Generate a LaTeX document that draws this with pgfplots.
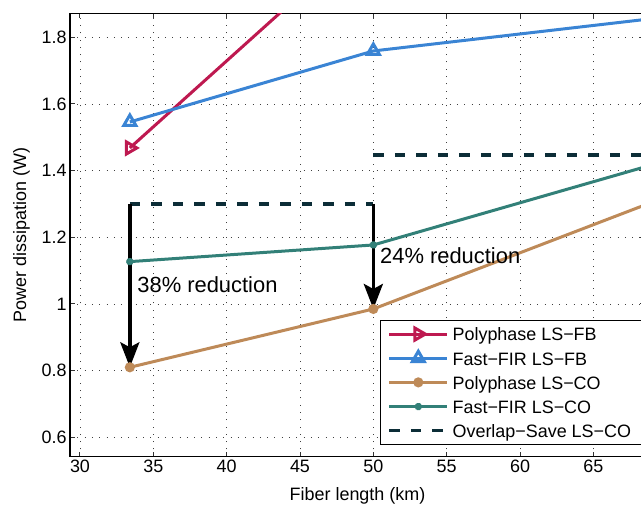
\documentclass[border=0pt]{standalone}
\usepackage{fontspec}
\setmainfont{Liberation Sans}
\usepackage{pgfplots}
\pgfplotsset{compat=1.18}
\usetikzlibrary{arrows.meta}

\definecolor{cPolyFB}{RGB}{190,25,80}
\definecolor{cFastFB}{RGB}{58,132,212}
\definecolor{cPolyCO}{RGB}{190,138,88}
\definecolor{cFastCO}{RGB}{50,128,120}
\definecolor{cOLS}{RGB}{12,45,55}

\newcommand{\lblfont}{\fontsize{18}{21.6}\selectfont}
\newcommand{\annfont}{\fontsize{22}{26}\selectfont}
% legend entries share one fixed width, so the box runs past the frame on the right
\newcommand{\entry}[1]{\makebox[190bp][l]{\strut #1}}

\begin{document}
\begin{tikzpicture}
\begin{axis}[
  scale only axis,
  width=575bp, height=443.4bp,
  xmin=29.32, xmax=68.52,
  ymin=0.5418, ymax=1.872,
  xtick={30,35,40,45,50,55,60,65},
  ytick={0.6,0.8,1,1.2,1.4,1.6,1.8},
  grid=major,
  grid style={black!75, line width=0.7bp, dash pattern=on 1bp off 6.3bp},
  axis line style={line width=1.2bp},
  tick style={line width=1bp, black!80},
  major tick length=5bp,
  font=\lblfont,
  ticklabel style={font=\lblfont},
  /pgf/number format/assume math mode=true,
  xlabel={Fiber length (km)},
  ylabel={Power dissipation (W)},
  xlabel style={at={(axis description cs:0.5,0)}, anchor=base, yshift=-44bp},
  ylabel style={at={(axis description cs:-0.0765,0.5)}, anchor=base},
  legend cell align=left,
  legend image code/.code={\draw[mark repeat=2,mark phase=2] plot coordinates {(0bp,0bp) (29bp,0bp) (58bp,0bp)};},
  legend style={at={(0.539,0.309)}, anchor=north west, draw=black, line width=1.2bp,
    fill=white, font=\lblfont, inner xsep=7bp, inner ysep=2bp,
    row sep=0.6bp, nodes={inner sep=3.5bp}},
]

% filter-bank based line-systems
\addplot[cPolyFB, line width=3bp, mark=triangle, mark size=7bp,
  mark options={rotate=-90, fill=white, solid}]
  coordinates {(33.4,1.468) (50,2.125)};
\addlegendentry{\entry{Polyphase LS−FB}}

\addplot[cFastFB, line width=3bp, mark=triangle, mark size=7bp,
  mark options={fill=white, solid}]
  coordinates {(33.4,1.546) (50,1.759) (80,1.912)};
\addlegendentry{\entry{Fast−FIR LS−FB}}

% convolution based line-systems
\addplot[cPolyCO, line width=3bp, mark=*, mark size=3.5bp, mark options={solid}]
  coordinates {(33.4,0.81) (50,0.985) (70,1.322)};
\addlegendentry{\entry{Polyphase LS−CO}}

\addplot[cFastCO, line width=3bp, mark=asterisk, mark size=3.5bp, mark options={solid}]
  coordinates {(33.4,1.127) (50,1.177) (70,1.43)};
\addlegendentry{\entry{Fast−FIR LS−CO}}

\addplot[cOLS, line width=3.6bp, dash pattern=on 10.5bp off 11bp]
  coordinates {(33.4,1.30) (50,1.30)};
\addlegendentry{\entry{Overlap−Save LS−CO}}
\addplot[cOLS, line width=3.6bp, dash pattern=on 10.5bp off 11bp, forget plot]
  coordinates {(50,1.447) (70,1.447)};

% reduction arrows
\addplot[black, line width=3.6bp, -{Stealth[length=25bp, width=19bp, inset=5bp]}, forget plot]
  coordinates {(33.4,1.30) (33.4,0.81)};
\addplot[black, line width=3.6bp, -{Stealth[length=25bp, width=19bp, inset=5bp]}, forget plot]
  coordinates {(50,1.30) (50,0.985)};

\node[anchor=west, font=\annfont, inner sep=0pt] at (axis cs:33.9,1.057) {38\% reduction};
\node[anchor=west, font=\annfont, inner sep=0pt] at (axis cs:50.45,1.144) {24\% reduction};
\end{axis}
\pgfresetboundingbox
\path[use as bounding box] (-70bp,-48.3bp) rectangle (571bp,456.7bp);
\end{tikzpicture}
\end{document}
